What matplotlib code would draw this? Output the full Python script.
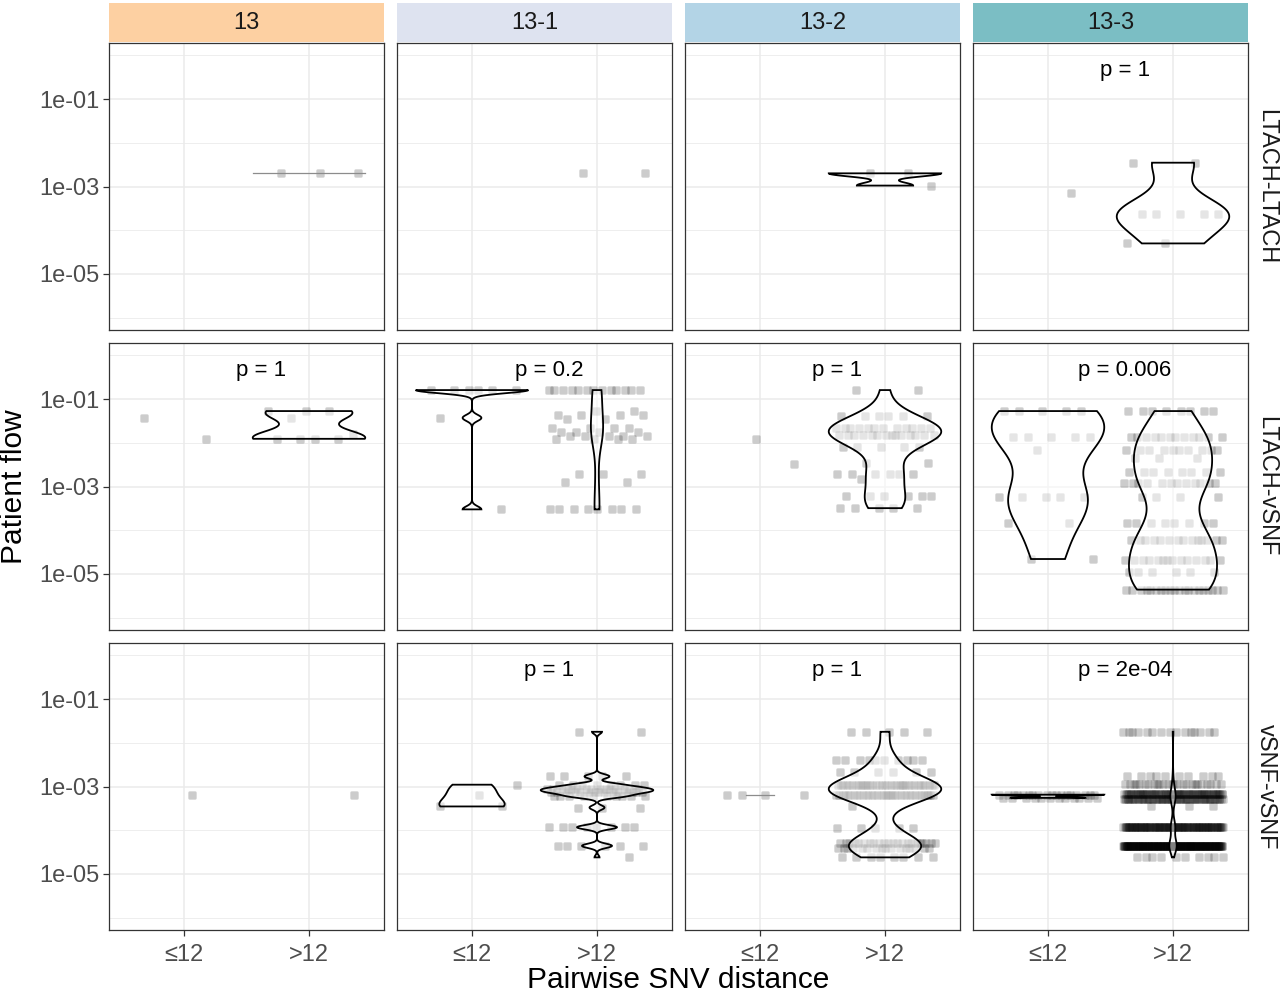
import numpy as np
import matplotlib
matplotlib.use("Agg")
import matplotlib.pyplot as plt
from matplotlib.patches import Rectangle
from matplotlib.path import Path
from matplotlib.ticker import FixedLocator, NullFormatter

plt.rcParams['font.family'] = ['Liberation Sans', 'DejaVu Sans']

# ---------------- data ----------------
clusters = ["13", "13-1", "13-2", "13-3"]
cluster_colors = ["#FDD0A2", "#DEE3F0", "#B3D4E6", "#7BBEC4"]
flow_types = ["LTACH-LTACH", "LTACH-vSNF", "vSNF-vSNF"]
distance_groups = ["≤12", ">12"]

# LTACH-LTACH
ll_13_le_levels, ll_13_le_counts = [], []
ll_13_gt_levels, ll_13_gt_counts = [2e-3], [3]
ll_131_le_levels, ll_131_le_counts = [], []
ll_131_gt_levels, ll_131_gt_counts = [2e-3], [2]
ll_132_le_levels, ll_132_le_counts = [], []
ll_132_gt_levels, ll_132_gt_counts = [2e-3, 1.05e-3], [2, 1]
ll_133_le_levels, ll_133_le_counts = [7e-4], [1]
ll_133_gt_levels, ll_133_gt_counts = [3.5e-3, 2.4e-4, 5e-5], [2, 5, 2]

# LTACH-vSNF
lv_13_le_levels, lv_13_le_counts = [0.037, 0.0123], [1, 1]
lv_13_gt_levels, lv_13_gt_counts = [0.053, 0.037, 0.016, 0.0123], [3, 1, 1, 4]
lv_131_le_levels, lv_131_le_counts = [0.16, 0.037, 3e-4], [6, 1, 1]
lv_131_gt_levels = [0.16, 0.053, 0.043, 0.035, 0.022, 0.018, 0.014, 0.012, 1.9e-3, 1.25e-3, 3e-4]
lv_131_gt_counts = [13, 2, 4, 2, 4, 4, 5, 4, 3, 2, 8]
lv_132_le_levels, lv_132_le_counts = [3.3e-3, 0.0123], [1, 1]
lv_132_gt_levels = [0.16, 0.04, 0.022, 0.015, 0.008, 3.5e-3, 1.9e-3, 1.5e-3, 6e-4, 3.2e-4]
lv_132_gt_counts = [2, 6, 12, 14, 5, 2, 6, 1, 6, 5]
lv_133_le_levels = [0.053, 0.0137, 0.007, 5.9e-4, 1.5e-4, 2.2e-5]
lv_133_le_counts = [5, 5, 1, 5, 2, 2]
lv_133_gt_levels = [0.053, 0.0137, 0.0068, 0.0045, 2.1e-3, 1.2e-3, 5.9e-4, 1.5e-4,
                    5.9e-5, 2.1e-5, 1.1e-5, 4.4e-6]
lv_133_gt_counts = [8, 12, 10, 3, 8, 12, 4, 8, 14, 14, 6, 20]

# vSNF-vSNF
vv_13_le_levels, vv_13_le_counts = [6.5e-4], [1]
vv_13_gt_levels, vv_13_gt_counts = [6.5e-4], [1]
vv_131_le_levels, vv_131_le_counts = [1.1e-3, 6.5e-4, 3.5e-4], [1, 1, 2]
vv_131_gt_levels = [0.0178, 1.7e-3, 1.1e-3, 9e-4, 7.5e-4, 6e-4, 3.3e-4, 1.17e-4, 4.4e-5, 2.4e-5]
vv_131_gt_counts = [2, 5, 8, 15, 15, 10, 3, 8, 6, 1]
vv_132_le_levels, vv_132_le_counts = [6.3e-4], [4]
vv_132_gt_levels = [0.0178, 4e-3, 2.1e-3, 1.1e-3, 6.5e-4, 3.5e-4, 1.1e-4, 5e-5, 4e-5, 2.4e-5]
vv_132_gt_counts = [5, 10, 6, 36, 36, 1, 5, 22, 16, 8]
vv_133_le_levels, vv_133_le_counts = [6.5e-4, 5.5e-4], [18, 12]
vv_133_gt_levels = [0.0178, 1.7e-3, 1.15e-3, 6.6e-4, 5.2e-4, 3.5e-4, 1.2e-4, 4.4e-5, 2.4e-5]
vv_133_gt_counts = [15, 10, 25, 80, 70, 3, 120, 200, 10]

# p-value labels (row, column) -> text
p_labels = {
    (0, 3): "p = 1",
    (1, 0): "p = 1", (1, 1): "p = 0.2", (1, 2): "p = 1", (1, 3): "p = 0.006",
    (2, 1): "p = 1", (2, 2): "p = 1", (2, 3): "p = 2e-04",
}

table = {
    (0, 0): [(ll_13_le_levels, ll_13_le_counts), (ll_13_gt_levels, ll_13_gt_counts)],
    (0, 1): [(ll_131_le_levels, ll_131_le_counts), (ll_131_gt_levels, ll_131_gt_counts)],
    (0, 2): [(ll_132_le_levels, ll_132_le_counts), (ll_132_gt_levels, ll_132_gt_counts)],
    (0, 3): [(ll_133_le_levels, ll_133_le_counts), (ll_133_gt_levels, ll_133_gt_counts)],
    (1, 0): [(lv_13_le_levels, lv_13_le_counts), (lv_13_gt_levels, lv_13_gt_counts)],
    (1, 1): [(lv_131_le_levels, lv_131_le_counts), (lv_131_gt_levels, lv_131_gt_counts)],
    (1, 2): [(lv_132_le_levels, lv_132_le_counts), (lv_132_gt_levels, lv_132_gt_counts)],
    (1, 3): [(lv_133_le_levels, lv_133_le_counts), (lv_133_gt_levels, lv_133_gt_counts)],
    (2, 0): [(vv_13_le_levels, vv_13_le_counts), (vv_13_gt_levels, vv_13_gt_counts)],
    (2, 1): [(vv_131_le_levels, vv_131_le_counts), (vv_131_gt_levels, vv_131_gt_counts)],
    (2, 2): [(vv_132_le_levels, vv_132_le_counts), (vv_132_gt_levels, vv_132_gt_counts)],
    (2, 3): [(vv_133_le_levels, vv_133_le_counts), (vv_133_gt_levels, vv_133_gt_counts)],
}

# ---------------- helpers ----------------
def nrd0(x):
    hi = np.std(x, ddof=1) if len(x) > 1 else 0.0
    q75, q25 = np.percentile(x, [75, 25])
    lo = min(hi, (q75 - q25) / 1.34)
    if not lo:
        lo = hi or abs(x[0]) or 1.0
    return 0.9 * lo * len(x) ** -0.2


def kde(vals):
    x = np.log10(np.asarray(vals, dtype=float))
    bw = nrd0(x)
    grid = np.linspace(x.min(), x.max(), 512)
    d = np.exp(-0.5 * ((grid[:, None] - x[None, :]) / bw) ** 2).sum(1) / (len(x) * bw * np.sqrt(2 * np.pi))
    return grid, d


# rounded-square marker (superellipse)
_t = np.linspace(0, 2 * np.pi, 65)
_c, _s = np.cos(_t), np.sin(_t)
_verts = np.column_stack([np.sign(_c) * np.abs(_c) ** (2 / 7), np.sign(_s) * np.abs(_s) ** (2 / 7)]) * 0.5
ROUND_SQ = Path(_verts, closed=True)

W, H = 1280, 994
fig = plt.figure(figsize=(W / 100, H / 100), dpi=100)
fig.patch.set_facecolor("white")

col_left = [109, 397, 685, 973]
row_top = [43, 343, 643]
pw, ph = 275, 287

GRID = "#EBEBEB"
DARK = "#333333"
TICKC = "#4D4D4D"
PHI = 0.6180339887

for r in range(3):
    for c in range(4):
        ax = fig.add_axes([col_left[c] / W, 1 - (row_top[r] + ph) / H, pw / W, ph / H])
        ax.set_yscale("log")
        ax.set_xlim(0.4, 2.6)
        ax.set_ylim(10 ** -6.28, 10 ** 0.28)
        ax.yaxis.set_major_locator(FixedLocator([1e-1, 1e-3, 1e-5]))
        ax.yaxis.set_minor_locator(FixedLocator([1e0, 1e-2, 1e-4, 1e-6]))
        ax.yaxis.set_minor_formatter(NullFormatter())
        ax.set_yticklabels(["1e-01", "1e-03", "1e-05"])
        ax.set_xticks([1, 2])
        ax.set_xticklabels(distance_groups)
        ax.grid(which="major", color=GRID, lw=1.1, zorder=0)
        ax.grid(which="minor", axis="y", color=GRID, lw=0.6, zorder=0)
        ax.set_axisbelow(True)
        for s in ax.spines.values():
            s.set_color(DARK)
            s.set_linewidth(0.9)
        ax.tick_params(which="minor", length=0)
        ax.tick_params(which="major", length=4, width=0.9, color=DARK,
                       labelsize=17, labelcolor=TICKC, pad=3)
        ax.tick_params(axis="x", pad=6)
        if c != 0:
            ax.tick_params(axis="y", which="major", length=0, labelleft=False)
        if r != 2:
            ax.tick_params(axis="x", which="major", length=0, labelbottom=False)

        groups = table[(r, c)]
        dens = []
        for gi, (levels, counts) in enumerate(groups):
            vals = np.repeat(np.asarray(levels, dtype=float), counts)
            pos = gi + 1
            if len(vals):
                k = np.arange(len(vals))
                off = (((k + 1) * PHI + 0.37 * (r * 4 + c + gi)) % 1.0 - 0.5) * 0.8
                ax.scatter(pos + off, vals, marker=ROUND_SQ, s=36, c="black", alpha=0.2,
                           linewidths=0, zorder=2)
            if len(vals) >= 3:
                dens.append((pos, kde(vals)))
        if dens:
            dmax = max(d.max() for _, (g, d) in dens)
            for pos, (g, d) in dens:
                w = d / dmax * 0.45
                if np.ptp(g) == 0:
                    ax.plot([pos - w[0], pos + w[0]], [10 ** g[0]] * 2, color="0.55", lw=0.9, zorder=3)
                else:
                    xs = np.concatenate([pos - w, (pos + w)[::-1]])
                    ys = np.concatenate([10 ** g, (10 ** g)[::-1]])
                    ax.fill(xs, ys, facecolor=(1, 1, 1, 0.5), edgecolor="black", lw=1.3, zorder=3)
        if (r, c) in p_labels:
            ax.text(1.615, 10 ** -0.48, p_labels[(r, c)], ha="center", va="baseline",
                    fontsize=16, color="black", zorder=5)

# top strips
for c in range(4):
    fig.add_artist(Rectangle((col_left[c] / W, 1 - 42 / H), pw / W, 39 / H,
                             transform=fig.transFigure, facecolor=cluster_colors[c],
                             edgecolor="none"))
    fig.text((col_left[c] + pw / 2) / W, 1 - 23 / H, clusters[c], ha="center", va="center",
             fontsize=17, color="#1A1A1A")

# right strips
for r in range(3):
    fig.text(1266 / W, 1 - (row_top[r] + ph / 2) / H, flow_types[r], ha="center", va="center",
             rotation=270, fontsize=17, color="#1A1A1A")

fig.text(678.5 / W, 1 - 980 / H, "Pairwise SNV distance", ha="center", va="center", fontsize=21.5)
fig.text(14 / W, 1 - 486.5 / H, "Patient flow", ha="center", va="center", rotation=90, fontsize=21.5)

fig.savefig("out.png", dpi=100, facecolor="white")
